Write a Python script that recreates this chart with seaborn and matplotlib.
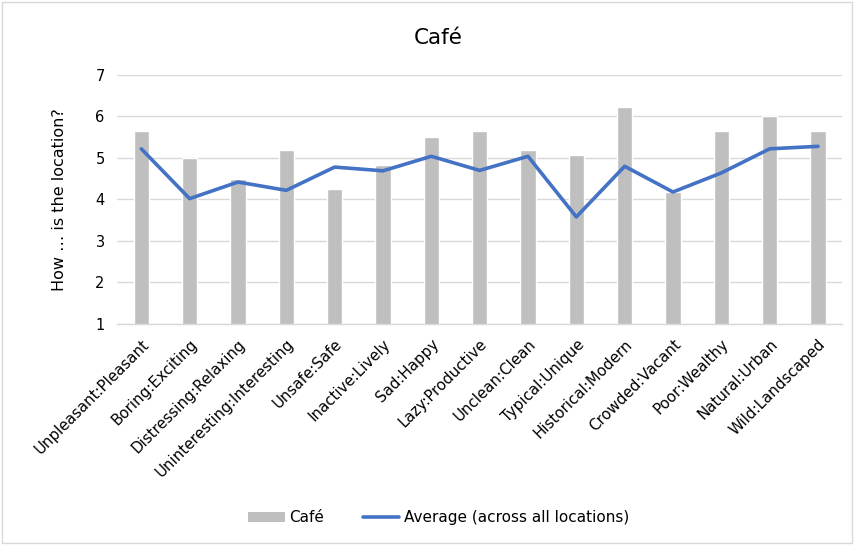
import numpy as np
import pandas as pd
import matplotlib
matplotlib.use("Agg")
import matplotlib.pyplot as plt
from matplotlib.patches import Rectangle, Patch
from matplotlib.lines import Line2D
import seaborn as sns

categories = [
    "Unpleasant:Pleasant", "Boring:Exciting", "Distressing:Relaxing",
    "Uninteresting:Interesting", "Unsafe:Safe", "Inactive:Lively",
    "Sad:Happy", "Lazy:Productive", "Unclean:Clean", "Typical:Unique",
    "Historical:Modern", "Crowded:Vacant", "Poor:Wealthy",
    "Natural:Urban", "Wild:Landscaped",
]
cafe = [5.66, 5.00, 4.50, 5.18, 4.26, 4.83, 5.50, 5.66, 5.18, 5.07,
        6.23, 4.18, 5.66, 6.00, 5.66]
average = [5.22, 4.02, 4.42, 4.22, 4.78, 4.69, 5.04, 4.70, 5.04, 3.58,
           4.80, 4.18, 4.64, 5.22, 5.28]
yticks = [1, 2, 3, 4, 5, 6, 7]

df = pd.DataFrame({"pair": categories, "cafe": cafe, "average": average})

sns.set_theme(style="white")
plt.rcParams["font.family"] = ["DejaVu Sans"]
plt.rcParams["text.color"] = "black"

fig = plt.figure(figsize=(8.55, 5.45), dpi=100)
ax = fig.add_axes([0.137, 0.4055, 0.848, 0.457])

bar_color = "#bfbfbf"
line_color = "#4472c4"

sns.barplot(data=df, x="pair", y="cafe", color=bar_color, width=0.32,
            saturation=1, ax=ax, zorder=2)
sns.lineplot(x=np.arange(len(categories)), y=df["average"].values,
             color=line_color, linewidth=2.6, ax=ax, zorder=3)

ax.set_ylim(1, 7)
ax.set_xlim(-0.5, len(categories) - 0.5)
ax.set_yticks(yticks)
ax.set_yticklabels([str(v) for v in yticks], fontsize=10.5)
ax.yaxis.grid(True, color="#d9d9d9", linewidth=1, zorder=0)
ax.set_axisbelow(True)
for side in ["top", "right", "left"]:
    ax.spines[side].set_visible(False)
ax.spines["bottom"].set_color("#d9d9d9")
ax.spines["bottom"].set_linewidth(1)
ax.tick_params(axis="both", length=0, pad=9, colors="#000000")
ax.set_xticks(np.arange(len(categories)))
ax.set_xticklabels(categories, rotation=45, ha="right",
                   rotation_mode="anchor", fontsize=10.8)
ax.set_xlabel("")
ax.set_ylabel("How … is the location?", fontsize=11.5, labelpad=20,
              color="black")

fig.text(0.513, 0.93, "Café", ha="center", va="center", fontsize=15.5,
         color="black")

handles = [Patch(facecolor=bar_color, edgecolor="none"),
           Line2D([0], [0], color=line_color, linewidth=2.6)]
fig.legend(handles, ["Café", "Average (across all locations)"],
           loc="center", bbox_to_anchor=(0.513, 0.05), ncol=2, frameon=False,
           fontsize=11, handlelength=2.4, handletextpad=0.3, columnspacing=2.5)

fig.patches.append(Rectangle((0.002, 0.003), 0.995, 0.994,
                             transform=fig.transFigure, fill=False,
                             edgecolor="#d9d9d9", linewidth=1))

fig.savefig("out.png", dpi=100, facecolor="white")
